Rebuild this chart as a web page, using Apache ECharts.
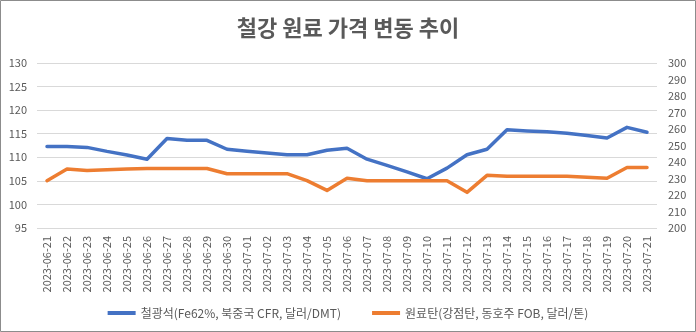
<!DOCTYPE html>
<html><head><meta charset="utf-8">
<script src="https://cdn.jsdelivr.net/npm/echarts@6/dist/echarts.min.js"></script>
<style>html,body{margin:0;padding:0;background:#fff}#c{width:696px;height:332px}</style>
</head><body><div id="c"></div>
<script>
const categories = ["2023-06-21","2023-06-22","2023-06-23","2023-06-24","2023-06-25","2023-06-26","2023-06-27","2023-06-28","2023-06-29","2023-06-30","2023-07-01","2023-07-02","2023-07-03","2023-07-04","2023-07-05","2023-07-06","2023-07-07","2023-07-08","2023-07-09","2023-07-10","2023-07-11","2023-07-12","2023-07-13","2023-07-14","2023-07-15","2023-07-16","2023-07-17","2023-07-18","2023-07-19","2023-07-20","2023-07-21"];
const ironOre = [112.3,112.3,112.1,111.25,110.5,109.6,114.0,113.6,113.6,111.7,111.3,110.9,110.55,110.55,111.5,111.9,109.6,108.3,106.9,105.45,107.7,110.55,111.7,115.85,115.6,115.4,115.1,114.6,114.1,116.35,115.3];
const cokingCoal = [228.7,235.7,234.9,235.3,235.7,236.1,236.1,236.1,236.1,232.9,232.9,232.9,232.9,228.7,222.8,230.1,228.7,228.7,228.7,228.7,228.7,221.6,231.9,231.3,231.3,231.3,231.3,230.7,230.1,236.7,236.7];
const leftTicks = {min:95, max:130, interval:5};
const rightTicks = {min:200, max:300, interval:10};
const seriesNames = ["철광석(Fe62%, 북중국 CFR, 달러/DMT)", "원료탄(강점탄, 동호주 FOB, 달러/톤)"];
const titleText = "철강 원료 가격 변동 추이";

const font = "'Noto Sans CJK KR','Noto Sans',sans-serif";
const chart = echarts.init(document.getElementById('c'));
chart.setOption({
  animation:false,
  textStyle:{fontFamily:font},
  title:{text:titleText,left:'center',top:12,textStyle:{fontFamily:font,fontSize:22,fontWeight:'bold',color:'#595959'}},
  graphic:[{type:'rect',shape:{x:0.5,y:0.5,width:695,height:331},style:{fill:'none',stroke:'#8c8c8c',lineWidth:1},silent:true}],
  grid:{left:37,right:39,top:63,bottom:104,containLabel:false},
  legend:{bottom:8,left:'center',itemWidth:28,itemHeight:4,itemGap:31,icon:'rect',
    textStyle:{fontFamily:font,fontSize:12,color:'#595959'},data:seriesNames},
  xAxis:{type:'category',data:categories,boundaryGap:true,
    axisLine:{show:false},axisTick:{show:false},
    axisLabel:{rotate:90,interval:0,fontSize:11,color:'#595959',margin:8,fontFamily:font}},
  yAxis:[
    {type:'value',min:leftTicks.min,max:leftTicks.max,interval:leftTicks.interval,
      axisLine:{show:false},axisTick:{show:false},
      axisLabel:{fontSize:11,color:'#595959',margin:10,fontFamily:font},
      splitLine:{lineStyle:{color:'#d9d9d9',width:1}}},
    {type:'value',min:rightTicks.min,max:rightTicks.max,interval:rightTicks.interval,position:'right',
      axisLine:{show:false},axisTick:{show:false},
      axisLabel:{fontSize:11,color:'#595959',margin:11,fontFamily:font},
      splitLine:{show:false}}
  ],
  series:[
    {name:seriesNames[0],type:'line',yAxisIndex:0,data:ironOre,showSymbol:false,symbol:'none',
      lineStyle:{color:'#4472C4',width:3.5,cap:'round',join:'round'},itemStyle:{color:'#4472C4'}},
    {name:seriesNames[1],type:'line',yAxisIndex:1,data:cokingCoal,showSymbol:false,symbol:'none',
      lineStyle:{color:'#ED7D31',width:3.5,cap:'round',join:'round'},itemStyle:{color:'#ED7D31'}}
  ]
});
</script></body></html>
